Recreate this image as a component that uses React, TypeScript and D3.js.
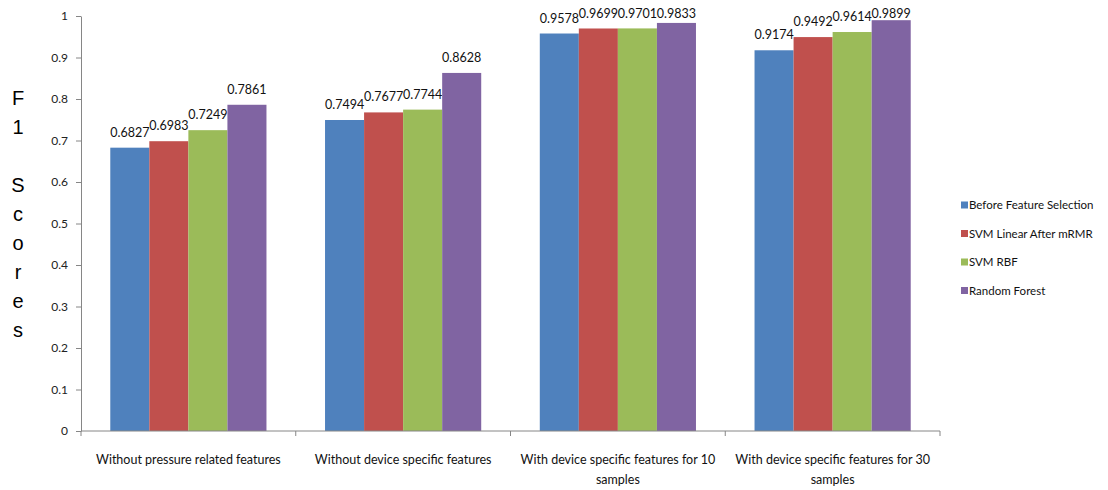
import React, { useEffect, useRef } from "react";
import * as d3 from "d3";

const categories = [
  "Without pressure related features",
  "Without device specific features",
  "With device specific features for 10 samples",
  "With device specific features for 30 samples",
];
const seriesNames = [
  "Before Feature Selection",
  "SVM Linear After mRMR",
  "SVM RBF",
  "Random Forest",
];
const beforeFS = [0.6827, 0.7494, 0.9578, 0.9174];
const svmLinear = [0.6983, 0.7677, 0.9699, 0.9492];
const svmRbf = [0.7249, 0.7744, 0.9701, 0.9614];
const randomForest = [0.7861, 0.8628, 0.9833, 0.9899];
const seriesValues = [beforeFS, svmLinear, svmRbf, randomForest];
const colors = ["#4F81BD", "#C0504D", "#9BBB59", "#8064A2"];
const yTicks = [0, 0.1, 0.2, 0.3, 0.4, 0.5, 0.6, 0.7, 0.8, 0.9, 1];
const yTitle = "F1 Scores";

const W = 1108;
const H = 490;
const LABEL_FONT = "Lato, 'Open Sans', sans-serif";

export default function App() {
  const ref = useRef<SVGSVGElement | null>(null);

  useEffect(() => {
    const svg = d3.select(ref.current);
    svg.selectAll("*").remove();

    const left = 81, right = 940, top = 16, bottom = 431;
    const y = d3.scaleLinear().domain([0, 1]).range([bottom, top]);
    const x0 = d3.scaleBand<string>().domain(categories).range([left, right]).paddingInner(0).paddingOuter(0);
    const x1 = d3.scaleBand<string>().domain(seriesNames).range([0, x0.bandwidth()]).paddingInner(0).paddingOuter(0.75);

    // bars
    const g = svg.append("g");
    categories.forEach((c, ci) => {
      seriesNames.forEach((s, si) => {
        const v = seriesValues[si][ci];
        const bx = (x0(c) as number) + (x1(s) as number);
        g.append("rect")
          .attr("x", bx)
          .attr("y", y(v))
          .attr("width", x1.bandwidth())
          .attr("height", y(0) - y(v))
          .attr("fill", colors[si]);
        g.append("text")
          .attr("x", bx + x1.bandwidth() / 2)
          .attr("y", Math.max(y(v) - 11, 18))
          .attr("text-anchor", "middle")
          .attr("font-family", LABEL_FONT)
          .attr("font-size", 12.5)
          .attr("fill", "#111")
          .text(String(v));
      });
    });

    // y axis
    const yAxis = d3.axisLeft(y).tickValues(yTicks).tickSize(5).tickSizeOuter(0).tickFormat((d) => String(d));
    const ya = svg.append("g").attr("transform", `translate(${left},0)`).call(yAxis);
    ya.select(".domain").attr("stroke", "#868686");
    ya.selectAll(".tick line").attr("stroke", "#868686");
    ya.selectAll(".tick text")
      .attr("font-family", LABEL_FONT)
      .attr("font-size", 12)
      .attr("fill", "#222")
      .attr("x", -13);

    // x axis
    const xa = svg.append("g").attr("transform", `translate(0,${bottom})`);
    xa.append("line").attr("x1", left).attr("x2", right).attr("y1", 0).attr("y2", 0).attr("stroke", "#868686");
    const bounds = categories.map((c) => x0(c) as number).concat([right]);
    bounds.forEach((bx) => {
      xa.append("line").attr("x1", bx).attr("x2", bx).attr("y1", 0).attr("y2", 5).attr("stroke", "#868686");
    });
    categories.forEach((c) => {
      const cx = (x0(c) as number) + x0.bandwidth() / 2;
      const t = xa.append("text")
        .attr("text-anchor", "middle")
        .attr("font-family", LABEL_FONT)
        .attr("font-size", 12.5)
        .attr("fill", "#111");
      const words = c.split(" ");
      let line: string[] = [];
      let lineNo = 0;
      let ts = t.append("tspan").attr("x", cx).attr("y", 33);
      const maxW = x0.bandwidth() * 0.92;
      words.forEach((w) => {
        line.push(w);
        ts.text(line.join(" "));
        const node = ts.node() as SVGTSpanElement;
        if (node.getComputedTextLength() > maxW && line.length > 1) {
          line.pop();
          ts.text(line.join(" "));
          line = [w];
          lineNo += 1;
          ts = t.append("tspan").attr("x", cx).attr("y", 33 + lineNo * 20).text(w);
        }
      });
    });

    // y title (stacked letters)
    const yt = svg.append("text")
      .attr("font-family", "'Liberation Sans', Arial, sans-serif")
      .attr("font-size", 20)
      .attr("fill", "#000")
      .attr("text-anchor", "middle");
    yTitle.split("").forEach((ch, i) => {
      yt.append("tspan").attr("x", 18).attr("y", 105 + i * 29).text(ch === " " ? "\u00a0" : ch);
    });

    // legend
    const lg = svg.append("g");
    seriesNames.forEach((s, i) => {
      const cy = 205 + i * 28.5;
      lg.append("rect").attr("x", 961).attr("y", cy - 3.5).attr("width", 7).attr("height", 7).attr("fill", colors[i]);
      lg.append("text")
        .attr("x", 969)
        .attr("y", cy + 4)
        .attr("font-family", LABEL_FONT)
        .attr("font-size", 11.5)
        .attr("fill", "#111")
        .text(s);
    });
  }, []);

  return (
    <svg
      ref={ref}
      width={W}
      height={H}
      style={{ position: "absolute", left: 0, top: 0, background: "#fff" }}
    />
  );
}
